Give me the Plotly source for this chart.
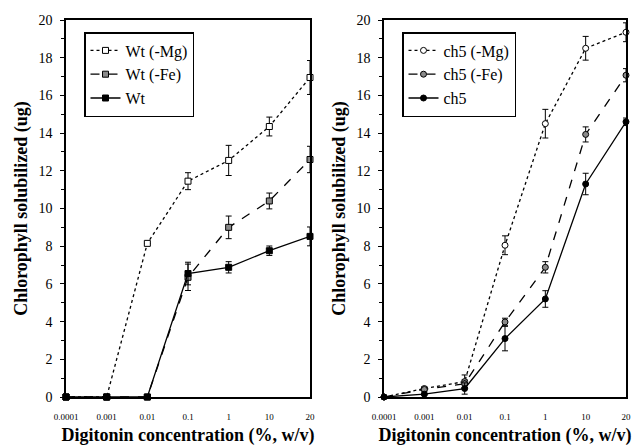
import plotly.graph_objects as go

categories = ["0.0001", "0.001", "0.01", "0.1", "1", "10", "20"]

wt_mg = [0, 0, 8.15, 11.45, 12.55, 14.35, 16.95]
wt_mg_err = [0, 0, 0, 0.45, 0.8, 0.5, 0.9]
wt_fe = [0, 0, 0, 6.35, 9.0, 10.4, 12.6]
wt_fe_err = [0, 0, 0, 0.7, 0.6, 0.42, 0.7]
wt = [0, 0, 0, 6.55, 6.88, 7.76, 8.52]
wt_err = [0, 0, 0, 0.6, 0.3, 0.25, 0.5]

ch5_mg = [0, 0.45, 0.82, 8.05, 14.5, 18.5, 19.35]
ch5_mg_err = [0, 0.1, 0.35, 0.5, 0.76, 0.63, 0.5]
ch5_fe = [0, 0.4, 0.7, 3.98, 6.88, 13.93, 17.07]
ch5_fe_err = [0, 0.1, 0.2, 0.2, 0.3, 0.4, 0.35]
ch5 = [0, 0.15, 0.45, 3.1, 5.2, 11.3, 14.6]
ch5_err = [0, 0.05, 0.3, 0.65, 0.44, 0.57, 0.2]

y_ticks = list(range(0, 21, 2))

FONT = "Liberation Serif, Times New Roman, Times, serif"
fig = go.Figure()

def add(x_ax, y_ax, legend, name, y, err, dash, symbol, fill):
    fig.add_trace(go.Scatter(
        x=categories, y=y, name=name, mode="lines+markers",
        xaxis=x_ax, yaxis=y_ax, legend=legend, cliponaxis=False,
        line=dict(color="black", width=1.3, dash=dash),
        marker=dict(symbol=symbol, size=6, color=fill, line=dict(color="black", width=1)),
        error_y=dict(type="data", array=err, visible=True, color="black", thickness=1, width=3),
    ))

add("x", "y", "legend", "Wt (-Mg)", wt_mg, wt_mg_err, "dot", "square", "white")
add("x", "y", "legend", "Wt (-Fe)", wt_fe, wt_fe_err, "dash", "square", "#8a8a8a")
add("x", "y", "legend", "Wt", wt, wt_err, "solid", "square", "black")
add("x2", "y2", "legend2", "ch5 (-Mg)", ch5_mg, ch5_mg_err, "dot", "circle", "white")
add("x2", "y2", "legend2", "ch5 (-Fe)", ch5_fe, ch5_fe_err, "dash", "circle", "#8a8a8a")
add("x2", "y2", "legend2", "ch5", ch5, ch5_err, "solid", "circle", "black")

W, H = 632, 446
ydom = [(H - 397) / H, (H - 20) / H]

xcommon = dict(type="category", categoryorder="array", categoryarray=categories,
               range=[0, 6], showline=True, linecolor="black", linewidth=1.5, mirror=True,
               showgrid=False, zeroline=False, ticks="", automargin=False, ticklabelstandoff=10,
               tickfont=dict(family=FONT, size=9, color="black"),
               title=dict(text="<b>Digitonin concentration (%, w/v)</b>", font=dict(family=FONT, size=18, color="black"), standoff=10))
ycommon = dict(range=[0, 20], tickvals=y_ticks, showline=True, linecolor="black", linewidth=1.5, mirror=True,
               showgrid=False, zeroline=False, ticks="outside", ticklen=4, tickcolor="black", automargin=False,
               ticklabelstandoff=5,
               minor=dict(dtick=1, ticks="outside", ticklen=3, tickcolor="black"),
               tickfont=dict(family=FONT, size=14, color="black"),
               title=dict(text="<b>Chlorophyll solubilized (ug)</b>", font=dict(family=FONT, size=18, color="black"), standoff=6))

legcommon = dict(bordercolor="black", borderwidth=1.5, bgcolor="white",
                 font=dict(family=FONT, size=16, color="black"), xanchor="left", yanchor="top",
                 tracegroupgap=0, itemwidth=30)

fig.update_layout(
    width=W, height=H, margin=dict(l=0, r=0, t=0, b=0),
    paper_bgcolor="white", plot_bgcolor="white",
    xaxis=dict(domain=[66 / W, 310 / W], anchor="y", **xcommon),
    yaxis=dict(domain=ydom, anchor="x", **ycommon),
    xaxis2=dict(domain=[384 / W, 626 / W], anchor="y2", **xcommon),
    yaxis2=dict(domain=ydom, anchor="x2", **ycommon),
    legend=dict(x=84 / W, y=1 - 32 / H, **legcommon),
    legend2=dict(x=402 / W, y=1 - 32 / H, **legcommon),
)

fig.write_html("out.html", config={"displayModeBar": False},
               post_script="document.body.style.margin='0';document.body.style.overflow='hidden';")
